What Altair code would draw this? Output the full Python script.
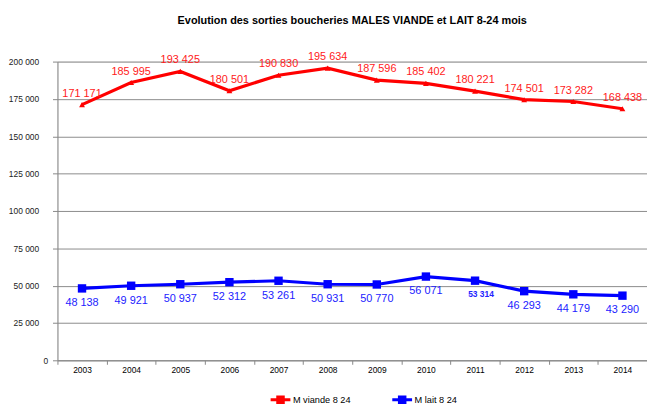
import altair as alt
import pandas as pd

years = ["2003", "2004", "2005", "2006", "2007", "2008", "2009", "2010", "2011", "2012", "2013", "2014"]
viande = [171171, 185995, 193425, 180501, 190830, 195634, 187596, 185402, 180221, 174501, 173282, 168438]
lait = [48138, 49921, 50937, 52312, 53261, 50931, 50770, 56071, 53314, 46293, 44179, 43290]
series_names = ["M viande 8 24", "M lait 8 24"]
y_ticks = [0, 25000, 50000, 75000, 100000, 125000, 150000, 175000, 200000]

def fmt(v):
    return f"{v:,}".replace(",", " ")

rows = []
for y, v in zip(years, viande):
    rows.append({"year": y, "value": v, "series": series_names[0], "label": fmt(v)})
for y, v in zip(years, lait):
    rows.append({"year": y, "value": v, "series": series_names[1], "label": fmt(v)})
df = pd.DataFrame(rows)

FONT = "Liberation Sans, Arial, sans-serif"

x_enc = alt.X("year:O", scale=alt.Scale(type="band", paddingInner=0, paddingOuter=0),
              axis=alt.Axis(title=None, labelAngle=0, tickBand="extent", tickSize=4,
                            labelPadding=1, labelFontSize=8.5, labelFont=FONT, labelColor="#000",
                            domainColor="#888888", tickColor="#888888", grid=False))
y_enc = alt.Y("value:Q", scale=alt.Scale(domain=[0, 200000], nice=False),
              axis=alt.Axis(title=None, values=y_ticks, tickSize=5,
                            labelPadding={"condition": {"test": "datum.value == 0", "value": 5}, "value": 14},
                            labelFontSize=8.5, labelFont=FONT, labelColor="#222",
                            labelExpr="replace(format(datum.value, ',d'), ',', ' ')",
                            domainColor="#888888", tickColor="#888888",
                            gridColor="#8c8c8c", gridWidth=1))

color_scale = alt.Scale(domain=series_names, range=["#FF0000", "#0000FF"])

legend = alt.Legend(
    title=None, orient="none", direction="horizontal", legendX=214, legendY=330,
    labelFont=FONT, labelFontSize=9.3, labelColor="#000", symbolSize=400,
    symbolType="M-1,0H1M-0.28,-0.28H0.28V0.28H-0.28Z",
    symbolStrokeWidth=3, columnPadding=35, labelOffset=1,
)

base = alt.Chart(df).encode(x=x_enc, y=y_enc)

lines = base.mark_line(strokeWidth=3.2).encode(
    color=alt.Color("series:N", scale=color_scale, legend=legend, sort=series_names)
)

pts_v = base.transform_filter(alt.datum.series == series_names[0]).mark_point(
    shape="triangle-up", filled=True, size=35, opacity=1, color="#FF0000")
pts_l = base.transform_filter(alt.datum.series == series_names[1]).mark_point(
    shape="square", filled=True, size=72, opacity=1, color="#0000FF")

lab_v = base.transform_filter(alt.datum.series == series_names[0]).mark_text(
    baseline="bottom", dy=-6, fontSize=11, font=FONT, color="#FF1a1a").encode(text="label:N")
lab_l_bold = base.transform_filter((alt.datum.series == series_names[1]) & (alt.datum.year == "2011")).mark_text(
    baseline="top", dy=9, dx=6, font=FONT, color="#2222FF", fontWeight="bold", fontSize=8.5).encode(text="label:N")
lab_l_rest = base.transform_filter((alt.datum.series == series_names[1]) & (alt.datum.year != "2011")).mark_text(
    baseline="top", dy=9, font=FONT, color="#2222FF", fontSize=11).encode(text="label:N")

chart = alt.layer(lines, pts_v, pts_l, lab_v, lab_l_rest, lab_l_bold).properties(
    width=596, height=302,
    title=alt.Title("Evolution des sorties boucheries MALES VIANDE et LAIT 8-24 mois",
                    font=FONT, fontSize=11, fontWeight="bold", color="#000",
                    anchor="middle", offset=26),
    autosize=alt.AutoSizeParams(type="none"),
    padding={"left": 50, "top": 52, "right": 0, "bottom": 43},
).configure_view(stroke=None).configure(background="white")

chart.save("out.html", embed_options={"renderer": "svg", "actions": False})
